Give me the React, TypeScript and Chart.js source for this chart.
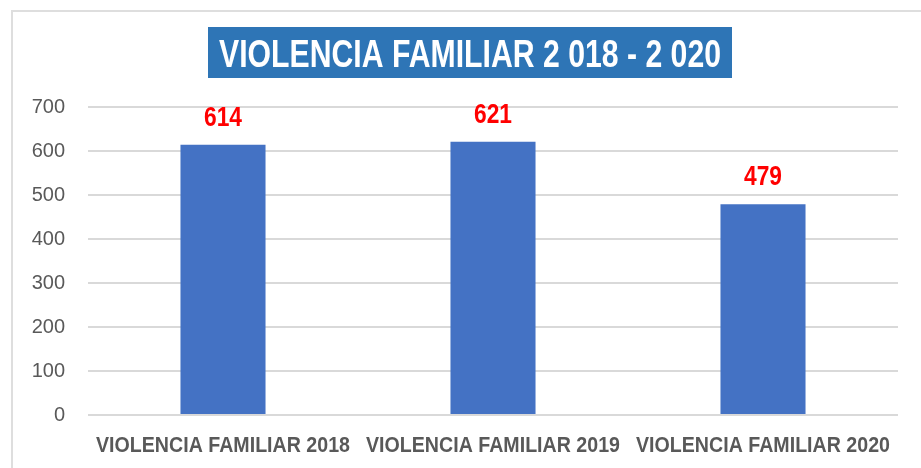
import React, { useEffect, useRef } from "react";
import { Chart, registerables } from "chart.js";

Chart.register(...registerables);

const categories = [
  "VIOLENCIA FAMILIAR 2018",
  "VIOLENCIA FAMILIAR 2019",
  "VIOLENCIA FAMILIAR 2020",
];
const casos = [614, 621, 479];
const yMin = 0;
const yMax = 700;
const yStep = 100;
const titulo = "VIOLENCIA FAMILIAR 2 018 - 2 020";

const SANS = '"Liberation Sans", Arial, sans-serif';

// Draw text horizontally condensed (imitating Arial Narrow)
function drawCondensed(
  ctx: CanvasRenderingContext2D,
  text: string,
  x: number,
  y: number,
  sx: number
) {
  ctx.save();
  ctx.translate(x, y);
  ctx.scale(sx, 1);
  ctx.textAlign = "center";
  ctx.textBaseline = "alphabetic";
  ctx.fillText(text, 0, 0);
  ctx.restore();
}

const titlePlugin = {
  id: "titleBox",
  afterDraw(chart: any) {
    const ctx = chart.ctx as CanvasRenderingContext2D;
    ctx.save();
    ctx.font = `bold 39px ${SANS}`;
    const w = ctx.measureText(titulo).width;
    const targetW = 502;
    const sx = targetW / w;
    const cx = 470;
    const boxW = 524;
    const top = 27;
    const h = 51;
    ctx.fillStyle = "#2E75B6";
    ctx.fillRect(cx - boxW / 2, top, boxW, h);
    ctx.fillStyle = "#FFFFFF";
    drawCondensed(ctx, titulo, cx, 66.5, sx);
    ctx.restore();
  },
};

const xLabelsPlugin = {
  id: "xLabels",
  afterDraw(chart: any) {
    const ctx = chart.ctx as CanvasRenderingContext2D;
    const xs = chart.scales.x;
    ctx.save();
    ctx.font = `bold 21.5px ${SANS}`;
    ctx.fillStyle = "#595959";
    categories.forEach((c, i) => {
      const w = ctx.measureText(c).width;
      drawCondensed(ctx, c, xs.getPixelForTick(i), 451.5, 254 / w);
    });
    ctx.restore();
  },
};

const labelsPlugin = {
  id: "valueLabels",
  afterDatasetsDraw(chart: any) {
    const ctx = chart.ctx as CanvasRenderingContext2D;
    const meta = chart.getDatasetMeta(0);
    ctx.save();
    ctx.font = `bold 28px ${SANS}`;
    ctx.fillStyle = "#FF0000";
    meta.data.forEach((bar: any, i: number) => {
      const t = String(casos[i]);
      const w = ctx.measureText(t).width;
      drawCondensed(ctx, t, bar.x, bar.y - 19, 38 / w);
    });
    ctx.restore();
  },
};

export default function App() {
  const ref = useRef<HTMLCanvasElement | null>(null);

  useEffect(() => {
    if (!ref.current) return;
    const chart = new Chart(ref.current, {
      type: "bar",
      data: {
        labels: categories,
        datasets: [
          {
            data: casos,
            backgroundColor: "#4472C4",
            borderWidth: 0,
            barPercentage: 0.315,
            categoryPercentage: 1,
          },
        ],
      },
      options: {
        responsive: false,
        animation: false,
        layout: { padding: { left: 0, right: 23, top: 107, bottom: 13 } },
        plugins: {
          legend: { display: false },
          title: { display: false },
          tooltip: { enabled: false },
        },
        scales: {
          x: {
            grid: { display: false, drawTicks: false },
            border: { display: false },
            ticks: { display: false, autoSkip: false },
            afterFit(scale: any) {
              scale.height = 40;
            },
          },
          y: {
            min: yMin,
            max: yMax,
            grid: { color: "#D9D9D9", lineWidth: 2, drawTicks: false },
            border: { display: false },
            ticks: {
              stepSize: yStep,
              color: "#595959",
              font: { family: SANS, size: 20 },
              padding: 23,
            },
            afterFit(scale: any) {
              scale.width = 88;
            },
          },
        },
      },
      plugins: [titlePlugin, xLabelsPlugin, labelsPlugin],
    });
    return () => chart.destroy();
  }, []);

  return (
    <div
      style={{
        position: "fixed",
        left: 0,
        top: 0,
        width: 921,
        height: 468,
        overflow: "hidden",
        background: "#FFFFFF",
      }}
    >
      <div
        style={{
          position: "absolute",
          left: 11,
          top: 10,
          width: 940,
          height: 500,
          border: "2px solid #DEDEDE",
          boxSizing: "border-box",
        }}
      />
      <canvas
        ref={ref}
        width={921}
        height={468}
        style={{ position: "absolute", left: 0, top: 0, width: 921, height: 468 }}
      />
    </div>
  );
}
